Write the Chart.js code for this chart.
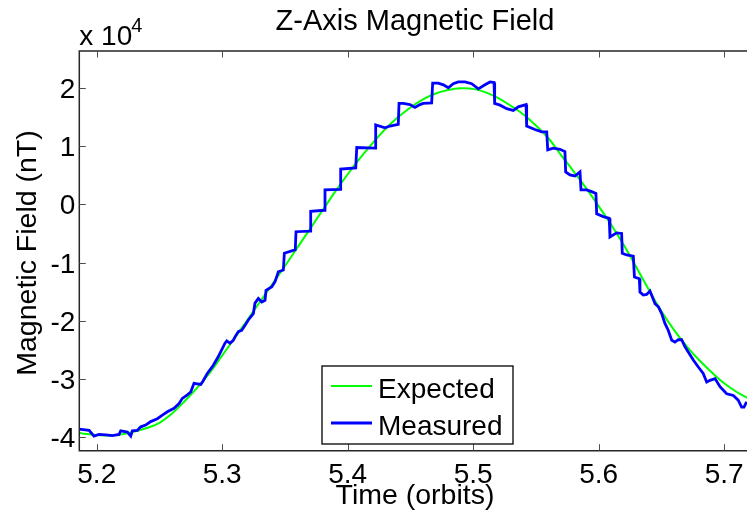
<!DOCTYPE html>
<html>
<head>
<meta charset="utf-8">
<title>Z-Axis Magnetic Field</title>
<script src="https://cdn.jsdelivr.net/npm/chart.js@4.4.1/dist/chart.umd.min.js"></script>
<style>
    html, body { margin: 0; padding: 0; background: #fff; overflow: hidden; }
    canvas { display: block; }
</style>
</head>
<body>
<canvas id="fieldChart" width="747" height="518"></canvas>
<script>
// tick positions
const xTicks = [5.2, 5.3, 5.4, 5.5, 5.6, 5.7];
const yTicks = [-40000, -30000, -20000, -10000, 0, 10000, 20000];

// expected field (nT) against time (orbits)
const expectedTime = [
    5.186, 5.19, 5.20, 5.21, 5.22, 5.23, 5.24, 5.25, 5.26, 5.27, 5.28, 5.29,
    5.30, 5.31, 5.32, 5.33, 5.34, 5.35, 5.36, 5.37, 5.38, 5.39, 5.40, 5.41,
    5.42, 5.43, 5.44, 5.45, 5.46, 5.47, 5.48, 5.49, 5.50, 5.51, 5.52, 5.53,
    5.54, 5.55, 5.56, 5.57, 5.58, 5.59, 5.60, 5.61, 5.62, 5.63, 5.64, 5.65,
    5.66, 5.67, 5.68, 5.69, 5.70, 5.71, 5.72
];
const expectedField = [
    -39300, -39500, -39700, -39800, -39600, -39100, -38500, -37600, -36000, -33900, -31600, -29000,
    -26000, -23000, -19900, -16800, -13700, -10600, -7400, -4200, -1000, 2200, 5200, 8000,
    10600, 13000, 15000, 16700, 18100, 19100, 19700, 20000, 19900, 19300, 18300, 17000,
    15500, 13600, 11400, 8500, 5700, 2800, -300, -3500, -7000, -10800, -14700, -18400,
    -21600, -24400, -26800, -28900, -30800, -32300, -33500
];

// measured field (nT) against time (orbits)
const measuredTime = [
    5.1859, 5.1939, 5.1978, 5.2018, 5.2072, 5.2124, 5.2178, 5.2191, 5.2244, 5.2271,
    5.2284, 5.2324, 5.2351, 5.2390, 5.2430, 5.2483, 5.2523, 5.2563, 5.2616, 5.2656,
    5.2682, 5.2722, 5.2749, 5.2775, 5.2829, 5.2845, 5.2881, 5.2929, 5.2969, 5.3022,
    5.3036, 5.3062, 5.3088, 5.3102, 5.3128, 5.3155, 5.3182, 5.3208, 5.3248, 5.3261,
    5.3288, 5.3315, 5.3341, 5.3349, 5.3394, 5.3421, 5.3447, 5.3487, 5.3495, 5.3554,
    5.3582, 5.3588, 5.3700, 5.3705, 5.3814, 5.3819, 5.3939, 5.3944, 5.4064, 5.4072,
    5.4218, 5.4223, 5.4297, 5.4337, 5.4403, 5.4409, 5.4443, 5.4496, 5.4536, 5.4576,
    5.4602, 5.4669, 5.4677, 5.4722, 5.4762, 5.4802, 5.4841, 5.4881, 5.4935, 5.4988,
    5.5041, 5.5094, 5.5134, 5.5166, 5.5171, 5.5214, 5.5267, 5.5320, 5.5359, 5.5421,
    5.5426, 5.5492, 5.5546, 5.5586, 5.5594, 5.5638, 5.5692, 5.5731, 5.5737, 5.5771,
    5.5811, 5.5851, 5.5859, 5.5904, 5.5944, 5.5978, 5.5984, 5.6037, 5.6084, 5.6090,
    5.6143, 5.6183, 5.6188, 5.6223, 5.6276, 5.6285, 5.6324, 5.6329, 5.6355, 5.6382,
    5.6409, 5.6427, 5.6449, 5.6475, 5.6502, 5.6528, 5.6555, 5.6582, 5.6608, 5.6634,
    5.6661, 5.6688, 5.6714, 5.6754, 5.6794, 5.6833, 5.6861, 5.6887, 5.6927, 5.6967,
    5.7020, 5.7073, 5.7112, 5.7139, 5.7158, 5.7179
];
const measuredField = [
    -38700, -38900, -39900, -39600, -39700, -39800, -39600, -39000, -39200, -39900,
    -39000, -38900, -38300, -38000, -37400, -36900, -36300, -35700, -35100, -34300,
    -33400, -32800, -32300, -30800, -31000, -30500, -29100, -27700, -26200, -23900,
    -23500, -23900, -23400, -22800, -21900, -21700, -20800, -19900, -18800, -17000,
    -16200, -16800, -16500, -14800, -14200, -13300, -11600, -11300, -8400, -8000,
    -7800, -4700, -4600, -1200, -1000, 2500, 2600, 6100, 6300, 9800,
    9700, 13700, 13200, 13500, 13800, 17400, 17400, 17200, 16700, 17200,
    17400, 17500, 20900, 20900, 20600, 20100, 20800, 21100, 21100, 20800,
    19900, 20600, 21100, 21000, 17400, 17100, 16500, 16200, 16800, 17200,
    13500, 12900, 12500, 12500, 9400, 9700, 9500, 9100, 5600, 5100,
    4900, 5600, 2500, 2500, 2200, 1900, -1600, -2100, -2400, -5600,
    -4900, -5000, -8400, -8700, -8900, -12500, -12800, -15100, -15600, -15500,
    -14900, -15900, -17100, -17600, -18800, -20500, -21700, -23400, -23700, -23300,
    -23300, -24500, -25400, -26800, -28000, -29100, -30600, -30300, -30000, -31400,
    -32600, -32900, -33700, -34900, -34900, -34000
];

const FONT = '"Liberation Sans", Arial, Helvetica, sans-serif';

function toPoints(xs, ys) {
    return xs.map((x, i) => ({ x: x, y: ys[i] }));
}

// axes frame, inward ticks, labels, titles and the boxed legend
const axesDecor = {
    id: 'axesDecor',
    afterDraw(chart) {
        const ctx = chart.ctx;
        const area = chart.chartArea;
        const xs = chart.scales.x;
        const ys = chart.scales.y;
        ctx.save();

        // frame (right edge lies outside the canvas)
        ctx.strokeStyle = '#262626';
        ctx.lineWidth = 1.5;
        ctx.beginPath();
        ctx.moveTo(area.right + 10, area.top);
        ctx.lineTo(area.left, area.top);
        ctx.lineTo(area.left, area.bottom);
        ctx.lineTo(area.right + 10, area.bottom);
        ctx.stroke();

        // tick marks pointing into the plot
        const tickLen = 6.5;
        ctx.strokeStyle = '#4d4d4d';
        ctx.lineWidth = 1;
        ctx.beginPath();
        xTicks.forEach(v => {
            const px = Math.round(xs.getPixelForValue(v)) + 0.5;
            ctx.moveTo(px, area.bottom);
            ctx.lineTo(px, area.bottom - tickLen);
            ctx.moveTo(px, area.top);
            ctx.lineTo(px, area.top + tickLen);
        });
        yTicks.forEach(v => {
            const py = Math.round(ys.getPixelForValue(v)) + 0.5;
            ctx.moveTo(area.left, py);
            ctx.lineTo(area.left + tickLen, py);
        });
        ctx.stroke();

        ctx.fillStyle = '#000';
        ctx.font = '28px ' + FONT;
        ctx.textBaseline = 'alphabetic';

        // x tick labels
        ctx.textAlign = 'center';
        xTicks.forEach(v => {
            ctx.fillText(v.toFixed(1), xs.getPixelForValue(v), area.bottom + 32);
        });

        // y tick labels in units of 10^4
        ctx.textAlign = 'right';
        yTicks.forEach(v => {
            ctx.fillText(String(v / 10000), area.left - 4, ys.getPixelForValue(v) + 10);
        });

        // exponent label
        ctx.textAlign = 'left';
        ctx.fillText('x 10', area.left, 45);
        ctx.font = '20px ' + FONT;
        ctx.fillText('4', area.left + 52, 32);

        // titles
        ctx.textAlign = 'center';
        ctx.font = '29px ' + FONT;
        ctx.fillText('Z-Axis Magnetic Field', 415, 29.5);
        ctx.font = '28.5px ' + FONT;
        ctx.fillText('Time (orbits)', 415, 504);
        ctx.save();
        ctx.translate(36, 253);
        ctx.rotate(-Math.PI / 2);
        ctx.fillText('Magnetic Field (nT)', 0, 0);
        ctx.restore();

        // legend
        const box = { x: 322, y: 366, w: 191, h: 78 };
        ctx.fillStyle = '#fff';
        ctx.fillRect(box.x, box.y, box.w, box.h);
        ctx.strokeStyle = '#000';
        ctx.lineWidth = 1.3;
        ctx.strokeRect(box.x, box.y, box.w, box.h);
        ctx.font = '28px ' + FONT;
        const rows = [386, 423];
        chart.data.datasets.forEach((ds, i) => {
            const y = rows[i];
            ctx.strokeStyle = ds.borderColor;
            ctx.lineWidth = ds.borderWidth;
            ctx.beginPath();
            ctx.moveTo(box.x + 9, y);
            ctx.lineTo(box.x + 50, y);
            ctx.stroke();
            ctx.fillStyle = '#000';
            ctx.textAlign = 'left';
            ctx.fillText(ds.label, box.x + 56, y + 12);
        });

        ctx.restore();
    }
};

new Chart(document.getElementById('fieldChart'), {
    type: 'line',
    data: {
        datasets: [
            {
                label: 'Expected',
                data: toPoints(expectedTime, expectedField),
                borderColor: '#00ff00',
                borderWidth: 2,
                pointRadius: 0,
                tension: 0.4,
                order: 2
            },
            {
                label: 'Measured',
                data: toPoints(measuredTime, measuredField),
                borderColor: '#0000ff',
                borderWidth: 2.8,
                pointRadius: 0,
                tension: 0,
                order: 1
            }
        ]
    },
    options: {
        responsive: false,
        animation: false,
        devicePixelRatio: 1,
        layout: { padding: { top: 51, left: 0, right: 0, bottom: 0 } },
        plugins: {
            legend: { display: false },
            tooltip: { enabled: false },
            title: { display: false }
        },
        scales: {
            x: {
                type: 'linear',
                min: 5.1861,
                max: 5.7182,
                grid: { display: false },
                border: { display: false },
                ticks: { display: false },
                afterBuildTicks: s => { s.ticks = xTicks.map(v => ({ value: v })); },
                afterFit: s => { s.height = 67.3; }
            },
            y: {
                type: 'linear',
                min: -42411,
                max: 26424,
                grid: { display: false },
                border: { display: false },
                ticks: { display: false },
                afterBuildTicks: s => { s.ticks = yTicks.map(v => ({ value: v })); },
                afterFit: s => { s.width = 79.3; }
            }
        }
    },
    plugins: [axesDecor]
});
</script>
</body>
</html>
